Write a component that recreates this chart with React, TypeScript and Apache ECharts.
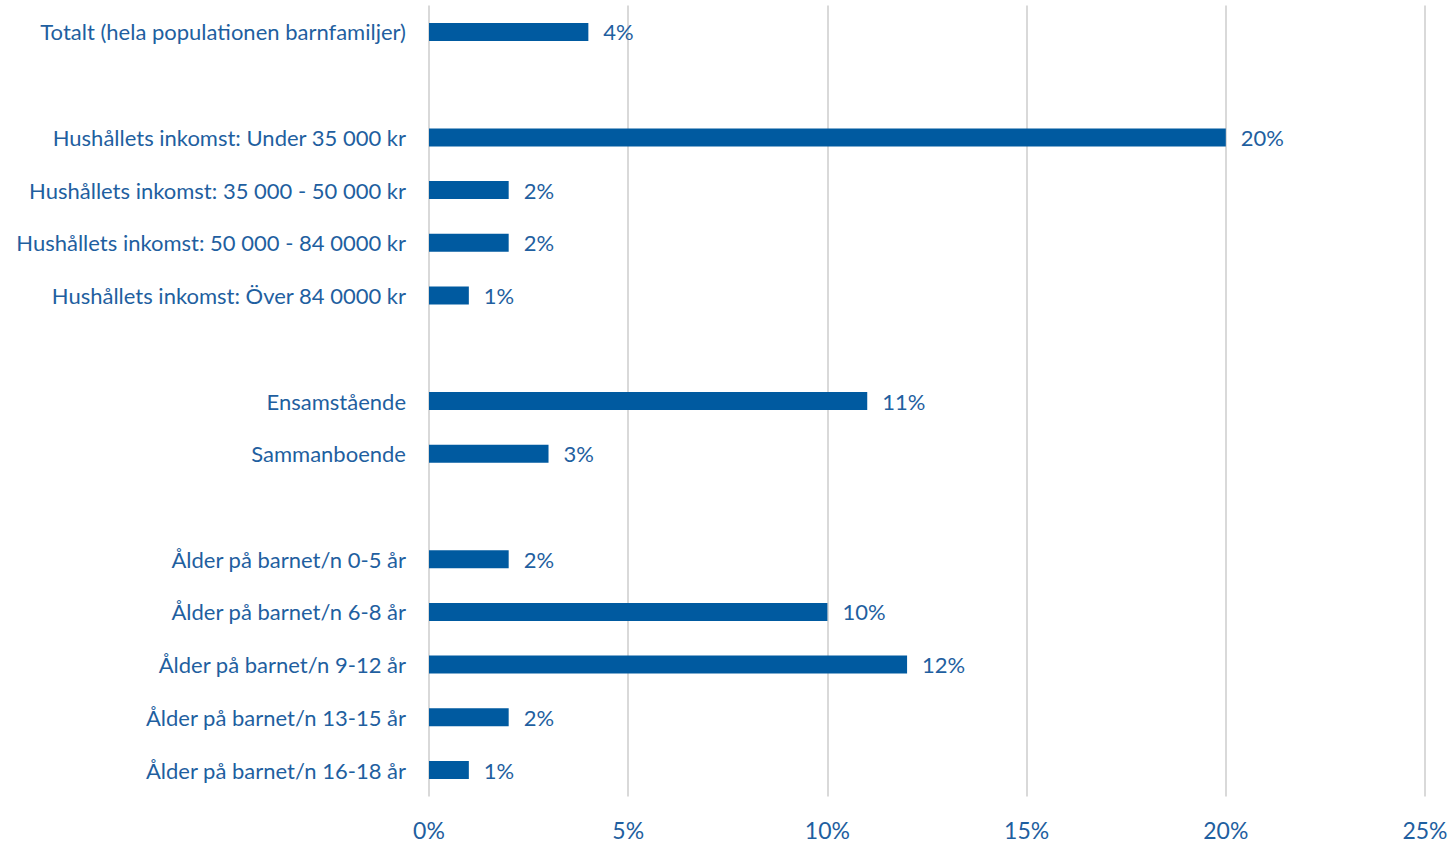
import React, { useEffect, useRef } from "react";
import * as echarts from "echarts";

const categories = [
  "Totalt (hela populationen barnfamiljer)",
  "",
  "Hushållets inkomst: Under 35 000 kr",
  "Hushållets inkomst: 35 000 - 50 000 kr",
  "Hushållets inkomst: 50 000 - 84 0000 kr",
  "Hushållets inkomst: Över 84 0000 kr",
  " ",
  "Ensamstående",
  "Sammanboende",
  "  ",
  "Ålder på barnet/n 0-5 år",
  "Ålder på barnet/n 6-8 år",
  "Ålder på barnet/n 9-12 år",
  "Ålder på barnet/n 13-15 år",
  "Ålder på barnet/n 16-18 år",
];

const values: (number | null)[] = [4, null, 20, 2, 2, 1, null, 11, 3, null, 2, 10, 12, 2, 1];

const xTicks = [0, 5, 10, 15, 20, 25];

const TEXT = "#1F5FA0";
const BAR = "#005AA0";
const FONT = "'Source Sans Pro', Lato, 'Noto Sans', sans-serif";

export default function App() {
  const ref = useRef<HTMLDivElement>(null);
  useEffect(() => {
    const chart = echarts.init(ref.current!, null, { renderer: "svg" });
    chart.setOption({
      animation: false,
      textStyle: { fontFamily: FONT },
      grid: {
        left: 429,
        right: 28,
        top: 5.6,
        bottom: 47.6,
        containLabel: false,
        outerBoundsMode: "none",
      },
      xAxis: {
        type: "value",
        min: xTicks[0],
        max: xTicks[xTicks.length - 1],
        interval: 5,
        axisLine: { show: false },
        axisTick: { show: false },
        splitLine: { show: true, lineStyle: { color: "#D9D9D9", width: 2 } },
        axisLabel: {
          color: TEXT,
          fontSize: 23,
          margin: 22,
          fontFamily: FONT,
          formatter: (v: number) => `${v}%`,
        },
      },
      yAxis: {
        type: "category",
        inverse: true,
        data: categories,
        axisLine: { show: false },
        axisTick: { show: false },
        axisLabel: { color: TEXT, fontSize: 22, margin: 23, fontFamily: FONT },
      },
      series: [
        {
          type: "bar",
          data: values,
          barWidth: 18,
          itemStyle: { color: BAR },
          label: {
            show: true,
            position: "right",
            distance: 15,
            color: TEXT,
            fontSize: 22,
            fontFamily: FONT,
            formatter: (p: any) => (p.value == null ? "" : `${p.value}%`),
          },
        },
      ],
    });
    return () => chart.dispose();
  }, []);
  return <div ref={ref} style={{ width: 1453, height: 844, position: "absolute", left: 0, top: 0 }} />;
}
